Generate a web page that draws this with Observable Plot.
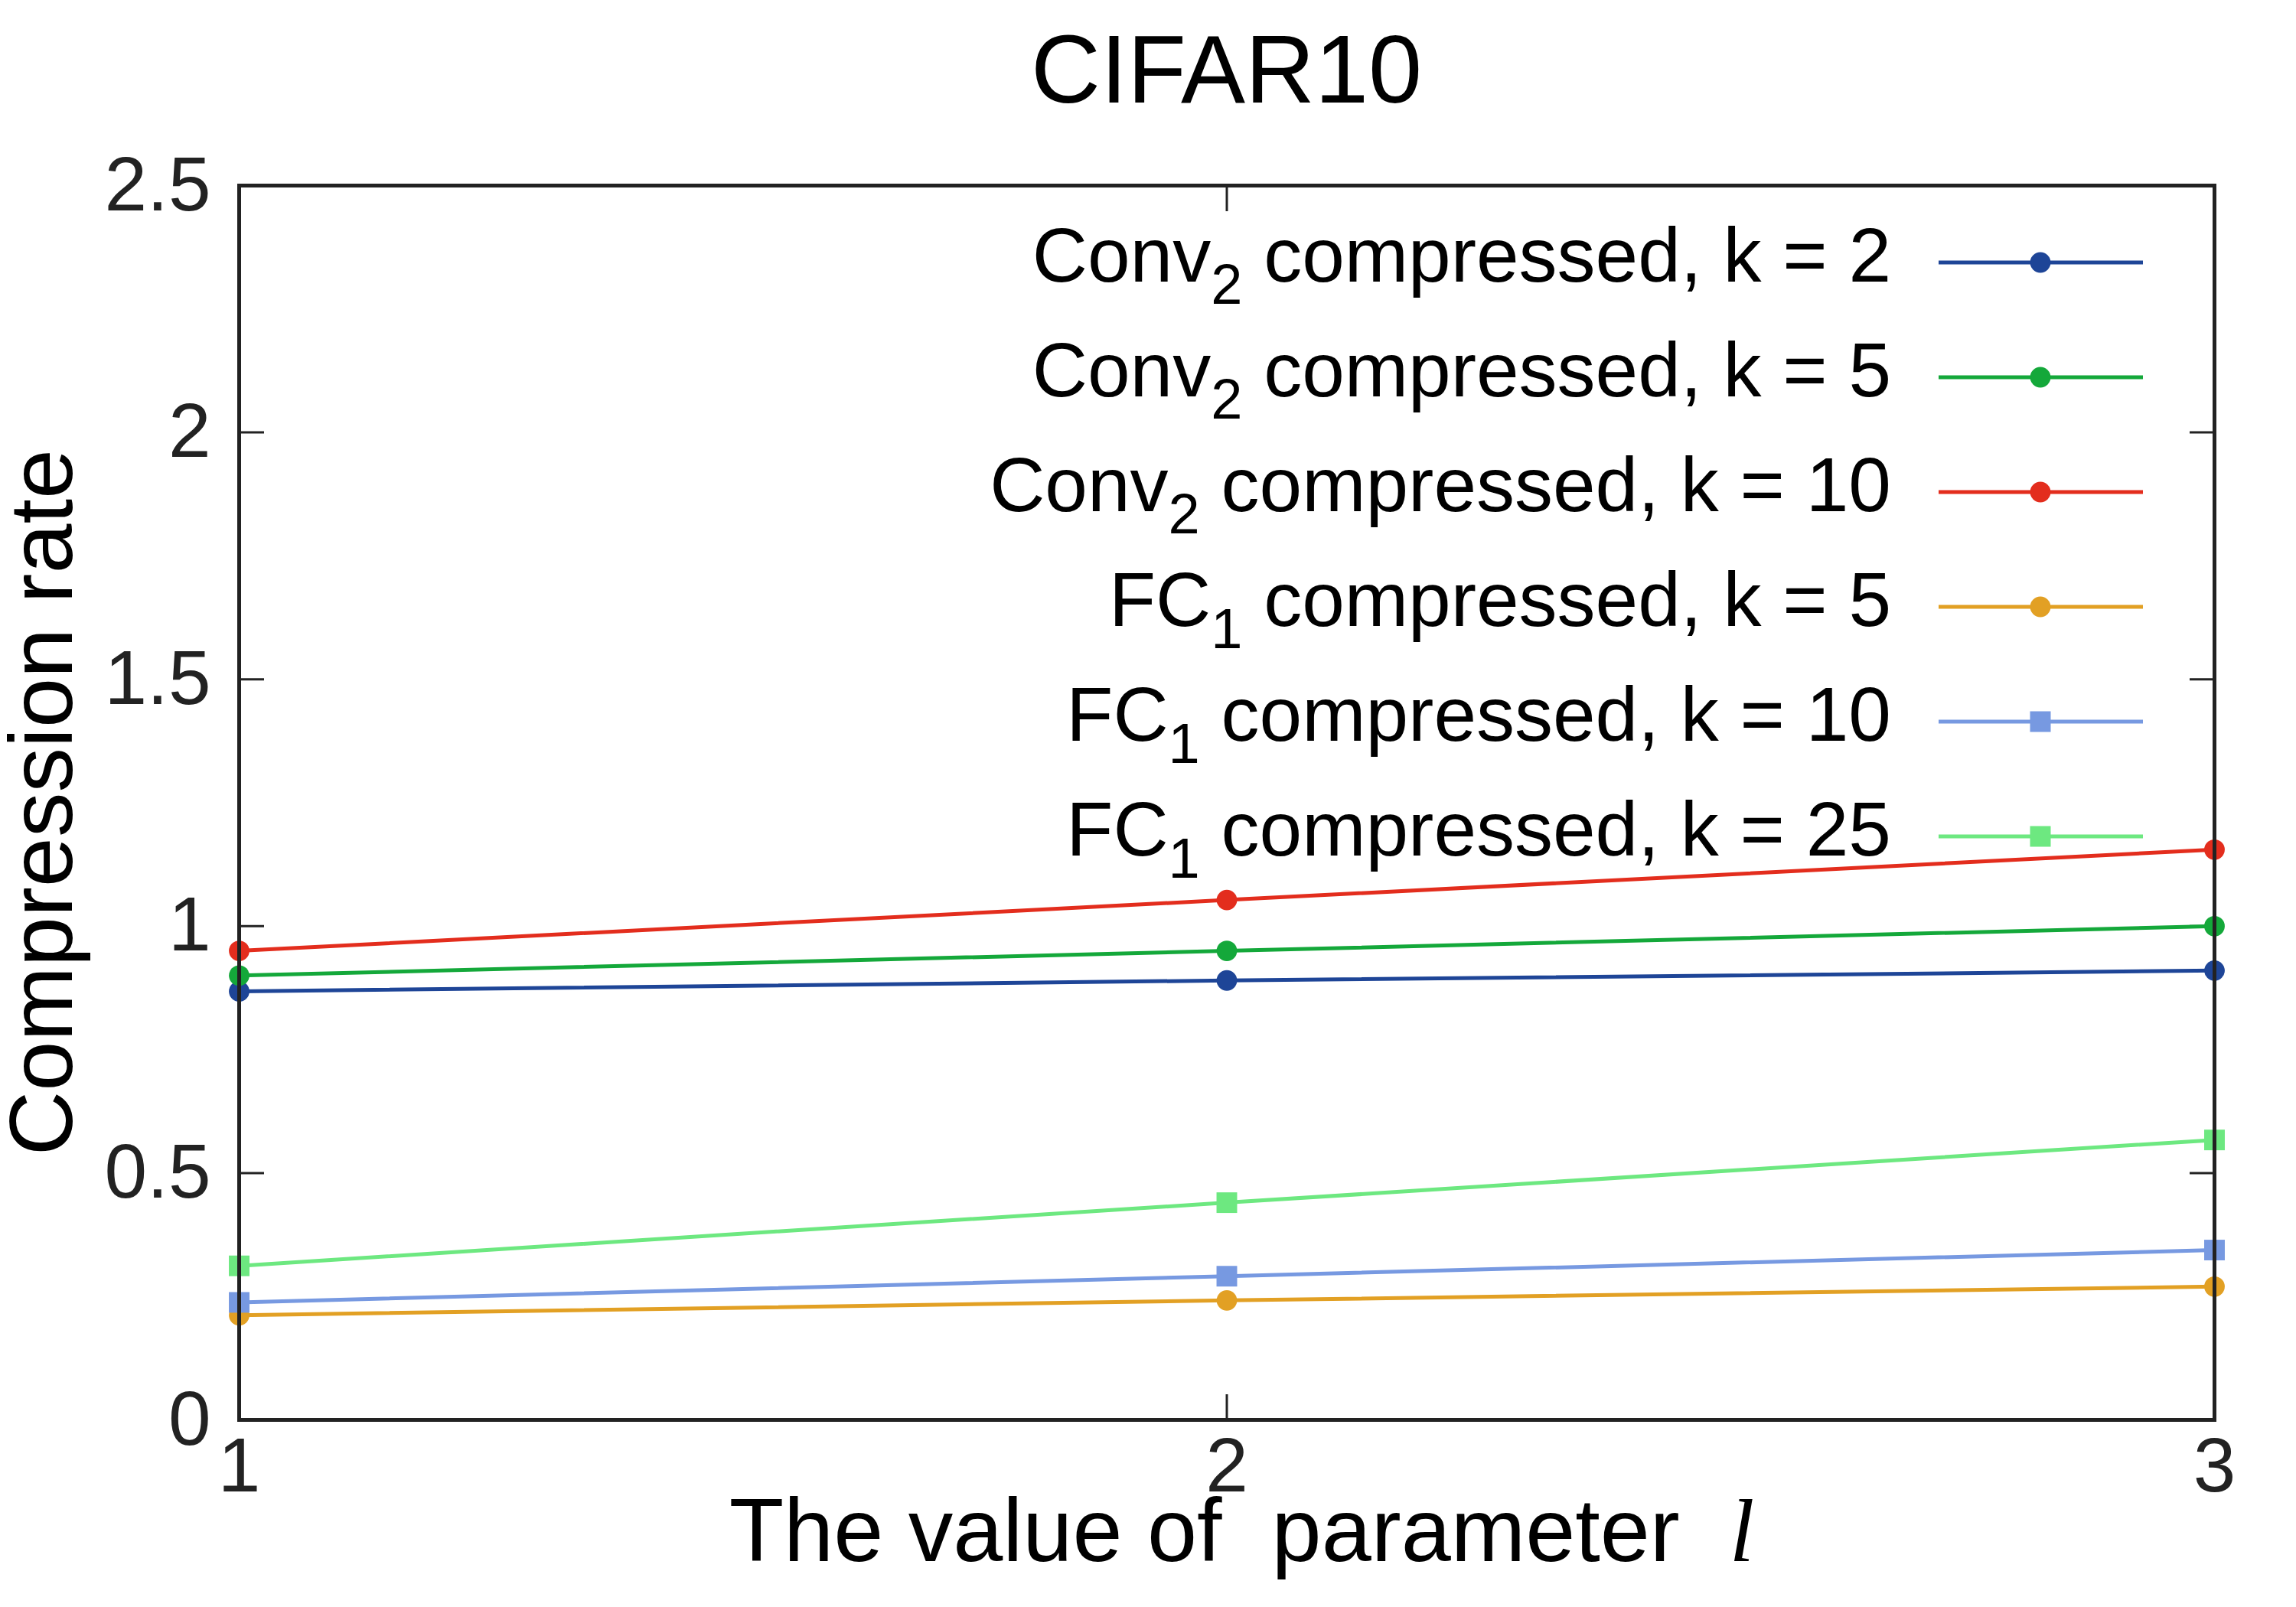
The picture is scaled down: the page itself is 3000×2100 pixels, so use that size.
<!DOCTYPE html>
<html>
<head>
<meta charset="utf-8">
<script src="https://cdn.jsdelivr.net/npm/d3@7"></script>
<script src="https://cdn.jsdelivr.net/npm/@observablehq/plot@0.6"></script>
<style>
  html, body { margin: 0; padding: 0; background: #fff; }
  #chart svg { display: block; }
</style>
</head>
<body>
<div id="chart"></div>
<script>
// ---------- data ----------
const xValues = [1, 2, 3];
const xTicks = [1, 2, 3];
const yTicks = [0, 0.5, 1, 1.5, 2, 2.5];

const conv2k2  = [0.868, 0.890, 0.910];
const conv2k5  = [0.900, 0.950, 1.000];
const conv2k10 = [0.950, 1.053, 1.155];
const fc1k5    = [0.212, 0.242, 0.270];
const fc1k10   = [0.238, 0.291, 0.344];
const fc1k25   = [0.312, 0.440, 0.567];

const seriesValues = [conv2k2, conv2k5, conv2k10, fc1k5, fc1k10, fc1k25];
const labelMain = ["Conv", "Conv", "Conv", "FC", "FC", "FC"];
const labelSub  = ["2", "2", "2", "1", "1", "1"];
const labelRest = [" compressed, k = 2", " compressed, k = 5", " compressed, k = 10",
                   " compressed, k = 5", " compressed, k = 10", " compressed, k = 25"];
const seriesColors  = ["#1e4597", "#14a83a", "#e32d1d", "#e2a024", "#7799e1", "#6de880"];
const seriesSymbols = ["circle", "circle", "circle", "circle", "square", "square"];

const titleText = "CIFAR10";
const xLabelText = "The value of  parameter  ";
const xLabelItalic = "l";
const yLabelText = "Compression rate";

// ---------- tidy table ----------
const table = [];
seriesValues.forEach((vals, s) => {
  vals.forEach((v, j) => table.push({series: s, x: xValues[j], y: v}));
});

// ---------- layout ----------
const W = 3000, H = 2100;
const FONT = "'Liberation Sans', Arial, Helvetica, sans-serif";

function legendMark(index, scales, values, dimensions) {
  const d = dimensions || {width: W, height: H, marginTop: 242, marginRight: 107};
  const right = d.width - d.marginRight;
  const g = d3.create("svg:g");
  seriesValues.forEach((_, i) => {
    const y = d.marginTop + 101 + 150 * i;
    const c = seriesColors[i];
    g.append("line")
      .attr("x1", right - 360).attr("x2", right - 93)
      .attr("y1", y).attr("y2", y)
      .attr("stroke", c).attr("stroke-width", 5);
    if (seriesSymbols[i] === "circle") {
      g.append("circle").attr("cx", right - 227).attr("cy", y).attr("r", 13.4).attr("fill", c);
    } else {
      g.append("rect").attr("x", right - 227 - 13.5).attr("y", y - 13.5)
        .attr("width", 27).attr("height", 27).attr("fill", c);
    }
    const t = g.append("text")
      .attr("x", right - 422).attr("y", y + 25)
      .attr("text-anchor", "end")
      .attr("font-family", FONT)
      .attr("font-size", 100)
      .attr("fill", "#000");
    t.append("tspan").text(labelMain[i]);
    t.append("tspan").attr("font-size", 74).attr("dy", 29).text(labelSub[i]);
    t.append("tspan").attr("dy", -29).style("white-space", "pre").text(labelRest[i]);
  });
  return g.node();
}

function labelsMark(index, scales, values, dimensions) {
  const d = dimensions || {width: W, height: H, marginTop: 242, marginRight: 107, marginLeft: 312, marginBottom: 245};
  const left = d.marginLeft, right = d.width - d.marginRight;
  const top = d.marginTop, bottom = d.height - d.marginBottom;
  const cx = (left + right) / 2, cy = (top + bottom) / 2;
  const g = d3.create("svg:g").attr("font-family", FONT).attr("fill", "#000");
  g.append("text")
    .attr("x", cx).attr("y", top - 108)
    .attr("text-anchor", "middle")
    .attr("font-size", 126)
    .text(titleText);
  const xl = g.append("text")
    .attr("x", cx + 20).attr("y", bottom + 185)
    .attr("text-anchor", "middle")
    .attr("font-size", 117)
    .style("white-space", "pre");
  xl.append("tspan").text(xLabelText);
  xl.append("tspan")
    .attr("font-family", "'Liberation Serif', 'DejaVu Serif', serif")
    .attr("font-style", "italic")
    .text(xLabelItalic);
  g.append("text")
    .attr("transform", `translate(${left - 218},${cy}) rotate(-90)`)
    .attr("text-anchor", "middle")
    .attr("font-size", 117)
    .text(yLabelText);
  return g.node();
}

const marks = [];
seriesValues.forEach((_, s) => {
  const data = table.filter(d => d.series === s);
  marks.push(Plot.line(data, {x: "x", y: "y", stroke: seriesColors[s], strokeWidth: 5}));
  marks.push(Plot.dot(data, {
    x: "x", y: "y", fill: seriesColors[s], stroke: "none",
    symbol: seriesSymbols[s], r: seriesSymbols[s] === "square" ? 15.2 : 13.4
  }));
});

const chart = Plot.plot({
  width: W,
  height: H,
  marginLeft: 312,
  marginRight: 107,
  marginTop: 242,
  marginBottom: 245,
  style: {fontFamily: FONT, background: "#fff", color: "#222", overflow: "visible"},
  x: {domain: [1, 3], ticks: xTicks},
  y: {domain: [0, 2.5], ticks: yTicks},
  marks: [
    // tick labels
    Plot.axisX({anchor: "bottom", ticks: xTicks, tickSize: 0, tickPadding: 22, fontSize: 100, label: null, tickFormat: d => String(d)}),
    Plot.axisY({anchor: "left", ticks: yTicks, tickSize: 0, tickPadding: 37, fontSize: 100, label: null, tickFormat: d => String(d)}),
    // inward mirror ticks
    Plot.axisX({anchor: "bottom", ticks: xTicks, tickSize: -33, strokeWidth: 3, fill: "none", label: null}),
    Plot.axisX({anchor: "top", ticks: xTicks, tickSize: -33, strokeWidth: 3, fill: "none", label: null}),
    Plot.axisY({anchor: "left", ticks: yTicks, tickSize: -33, strokeWidth: 3, fill: "none", label: null}),
    Plot.axisY({anchor: "right", ticks: yTicks, tickSize: -33, strokeWidth: 3, fill: "none", label: null}),
    ...marks,
    Plot.frame({stroke: "#222", strokeWidth: 5}),
    legendMark,
    labelsMark
  ]
});
document.getElementById("chart").appendChild(chart);
</script>
</body>
</html>
